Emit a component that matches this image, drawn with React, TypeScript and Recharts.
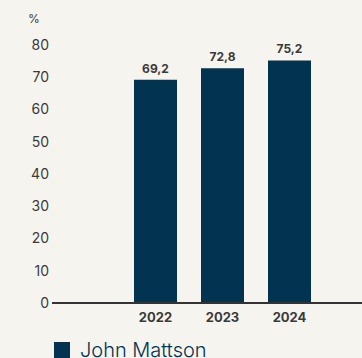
import { BarChart, Bar, XAxis, YAxis, LabelList } from "recharts";

const years = ["2022", "2023", "2024"];
const values = [69.2, 72.8, 75.2];
const yTicks = [0, 10, 20, 30, 40, 50, 60, 70, 80];
const seriesName = "John Mattson";

const NAVY = "#023350";
const BG = "#f6f4ef";
const TEXT = "#3a3a3a";
const FONT = "Inter, 'Noto Sans', sans-serif";

const data = years.map((year, i) => ({ year, value: values[i] }));

const fmt = (v: number) => v.toFixed(1).replace(".", ",");

export default function App() {
  return (
    <div
      style={{
        position: "absolute",
        left: 0,
        top: 0,
        width: 362,
        height: 358,
        background: BG,
        fontFamily: FONT,
        overflow: "hidden",
      }}
    >
      <div
        style={{
          position: "absolute",
          left: 28,
          top: 11,
          fontSize: 12,
          color: TEXT,
        }}
      >
        %
      </div>
      <BarChart
        width={362}
        height={334}
        data={data}
        margin={{ top: 45, right: 0, bottom: 1, left: 0 }}
      >
        <YAxis
          domain={[0, 80]}
          ticks={yTicks}
          width={52}
          axisLine={false}
          tickLine={false}
          tickSize={0}
          tickMargin={3}
          interval={0}
          tick={{ fill: TEXT, fontSize: 14, fontFamily: FONT }}
        />
        <XAxis
          dataKey="year"
          padding={{ left: 70, right: 39 }}
          axisLine={{ stroke: "#333", strokeWidth: 2 }}
          tickLine={false}
          tickMargin={4}
          tick={{ fill: TEXT, fontSize: 13, fontWeight: 700, fontFamily: FONT }}
        />
        <Bar dataKey="value" fill={NAVY} barSize={43} isAnimationActive={false}>
          <LabelList
            dataKey="value"
            position="top"
            offset={7}
            formatter={(v: any) => fmt(Number(v))}
            style={{ fill: TEXT, fontSize: 12, fontWeight: 700, fontFamily: FONT }}
          />
        </Bar>
      </BarChart>
      <div
        style={{
          position: "absolute",
          left: 54,
          top: 338,
          display: "flex",
          alignItems: "center",
          color: NAVY,
          fontSize: 20,
          fontWeight: 300,
          whiteSpace: "nowrap",
        }}
      >
        <span
          style={{
            display: "inline-block",
            width: 16,
            height: 16,
            background: NAVY,
            marginRight: 10,
          }}
        />
        {seriesName}
      </div>
    </div>
  );
}
